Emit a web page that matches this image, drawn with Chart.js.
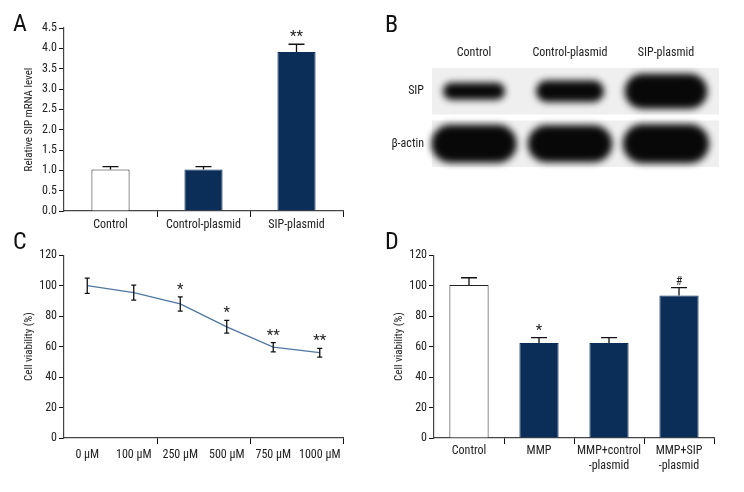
<!DOCTYPE html>
<html>
<head>
<meta charset="utf-8">
<script src="https://cdn.jsdelivr.net/npm/chart.js@4.4.0/dist/chart.umd.min.js"></script>
<style>
body { margin: 0; background: #fff; }
#wrap { position: relative; width: 744px; height: 492px; }
.panel { position: absolute; width: 372px; height: 246px; }
.tag { position: absolute; font: 24px 'Roboto Condensed', 'DejaVu Sans Condensed', sans-serif; line-height: 24px; color: #111; }
</style>
</head>
<body>
<div id="wrap">
	<div class="panel" style="left:0;top:0"><canvas id="chartA"></canvas></div>
	<div class="panel" style="left:372px;top:0"><canvas id="chartB"></canvas></div>
	<div class="panel" style="left:0;top:246px"><canvas id="chartC"></canvas></div>
	<div class="panel" style="left:372px;top:246px"><canvas id="chartD"></canvas></div>
	<div class="tag" style="left:13px;top:11px">A</div>
	<div class="tag" style="left:385px;top:12px">B</div>
	<div class="tag" style="left:13px;top:229px">C</div>
	<div class="tag" style="left:385px;top:229px">D</div>
</div>
<script>
// A - relative SIP mRNA
var groupsA = ['Control', 'Control-plasmid', 'SIP-plasmid'];
var mrnaA = [1.02, 1.02, 3.91];
var mrnaErrA = [0.07, 0.07, 0.19];
var sigA = ['', '', '**'];

// B - western blot (band density, arbitrary units)
var lanesB = ['Control', 'Control-plasmid', 'SIP-plasmid'];
var rowsB = ['SIP', 'β-actin'];
var sipDensity = [1.0, 1.35, 2.6];
var actinDensity = [2.9, 2.8, 3.0];

// C - viability vs dose
var dosesC = ['0 µM', '100 µM', '250 µM', '500 µM', '750 µM', '1000 µM'];
var viabilityC = [100, 95.4, 88, 73, 59.6, 56];
var viabilityErrC = [5, 4.9, 4.7, 4.2, 3, 2.9];
var sigC = ['', '', '*', '*', '**', '**'];

// D - viability by treatment
var groupsD = ['Control', 'MMP', ['MMP+control', '-plasmid'], ['MMP+SIP', '-plasmid']];
var viabilityD = [100.4, 62.4, 62.4, 93.5];
var viabilityErrD = [4.8, 3.5, 3.5, 5.2];
var sigD = ['', '*', '', '#'];

var navy = '#0b2e58';
var FONT = "'Roboto Condensed', 'DejaVu Sans Condensed', sans-serif";
Chart.defaults.font.family = FONT;
Chart.defaults.font.size = 12;
Chart.defaults.color = '#222';
Chart.defaults.animation = false;
Chart.defaults.events = [];
Chart.defaults.plugins.legend.display = false;
Chart.defaults.plugins.tooltip.enabled = false;

// error bars + significance marks
function errorBars(errors, marks, both, cap) {
	return {
		id: 'errorBars',
		afterDatasetsDraw: function(chart) {
			var ctx = chart.ctx, y = chart.scales.y, ds = chart.data.datasets[0];
			chart.getDatasetMeta(0).data.forEach(function(el, i) {
				var top = y.getPixelForValue(ds.data[i] + errors[i]);
				var bottom = both ? y.getPixelForValue(ds.data[i] - errors[i]) : el.y;
				ctx.save();
				ctx.strokeStyle = '#111';
				ctx.lineWidth = 1.3;
				ctx.beginPath();
				ctx.moveTo(el.x, top); ctx.lineTo(el.x, bottom);
				ctx.moveTo(el.x - cap, top); ctx.lineTo(el.x + cap, top);
				if (both) { ctx.moveTo(el.x - cap, bottom); ctx.lineTo(el.x + cap, bottom); }
				ctx.stroke();
				if (marks[i]) {
					ctx.fillStyle = '#222';
					ctx.font = (marks[i] == '#' ? '12px ' : '15px ') + FONT;
					ctx.textAlign = 'center';
					ctx.textBaseline = 'alphabetic';
					ctx.fillText(marks[i], el.x, top - 3);
				}
				ctx.restore();
			});
		}
	};
}

function tickEvery(n) {
	return function(c) {
		if (c.type === 'scale') return '#111';
		return c.index > 0 && c.index % n === 0 ? '#111' : 'rgba(0,0,0,0)';
	};
}

function yAxis(max, step, title, width, titlePad, fmt) {
	return {
		min: 0, max: max,
		ticks: {stepSize: step, padding: 2, callback: fmt},
		grid: {drawOnChartArea: false, color: '#111', tickLength: 5},
		border: {color: '#444', width: 1.2},
		title: {display: true, text: title, font: {size: 11}, padding: {top: titlePad, bottom: 0}},
		afterFit: function(s) { s.width = width; }
	};
}

function xAxis(height, pad, every) {
	return {
		offset: true,
		grid: {offset: true, drawOnChartArea: false, tickLength: 6, color: tickEvery(every)},
		border: {color: '#444', width: 1.2},
		ticks: {padding: pad, maxRotation: 0, autoSkip: false},
		afterFit: function(s) { s.height = height; }
	};
}

new Chart(document.getElementById('chartA'), {
	type: 'bar',
	data: {
		labels: groupsA,
		datasets: [{
			data: mrnaA,
			backgroundColor: ['#ffffff', navy, navy],
			borderColor: ['#222', navy, navy],
			borderWidth: 1,
			categoryPercentage: 1,
			barPercentage: 0.41
		}]
	},
	options: {
		responsive: true,
		maintainAspectRatio: false,
		layout: {padding: {top: 28, right: 29, left: 0, bottom: 0}},
		scales: {
			x: xAxis(35, 1, 1),
			y: yAxis(4.5, 0.5, 'Relative SIP mRNA level', 64, 23, function(v) { return v.toFixed(1); })
		}
	},
	plugins: [errorBars(mrnaErrA, sigA, false, 8)]
});

// blot: band images sized from density
function bandImage(d) {
	var w = 62 * Math.pow(d, 0.3), h = 17 * Math.pow(d, 0.75);
	var c = document.createElement('canvas');
	c.width = Math.ceil(w + 20);
	c.height = Math.ceil(h + 20);
	var g = c.getContext('2d');
	g.filter = 'blur(3.5px)';
	g.fillStyle = '#080808';
	g.beginPath();
	g.roundRect((c.width - w) / 2, (c.height - h) / 2, w, h, h / 2);
	g.fill();
	return c;
}

var blotBackground = {
	id: 'blotBackground',
	beforeDatasetsDraw: function(chart) {
		var ctx = chart.ctx, a = chart.chartArea, y = chart.scales.y;
		var half = y.height / rowsB.length / 2 - 3;
		ctx.save();
		ctx.fillStyle = '#efefef';
		rowsB.forEach(function(r, i) {
			var yc = y.getPixelForValue(i);
			ctx.fillRect(a.left + 6, yc - half, a.right - a.left - 1, half * 2);
		});
		ctx.restore();
	}
};

new Chart(document.getElementById('chartB'), {
	type: 'scatter',
	data: {
		datasets: [{
			data: lanesB.map(function(l) { return {x: l, y: rowsB[0]}; }),
			pointStyle: sipDensity.map(bandImage),
			clip: false
		}, {
			data: lanesB.map(function(l) { return {x: l, y: rowsB[1]}; }),
			pointStyle: actinDensity.map(bandImage),
			clip: false
		}]
	},
	options: {
		responsive: true,
		maintainAspectRatio: false,
		layout: {padding: {top: 40, right: 30, bottom: 76, left: 0}},
		scales: {
			x: {type: 'category', labels: lanesB, position: 'top', offset: true,
				grid: {display: false, drawTicks: false}, border: {display: false},
				ticks: {padding: 5}, afterFit: function(s) { s.height = 25; }},
			y: {type: 'category', labels: rowsB, offset: true,
				grid: {display: false, drawTicks: false}, border: {display: false},
				ticks: {padding: 2}, afterFit: function(s) { s.width = 54; }}
		}
	},
	plugins: [blotBackground]
});

new Chart(document.getElementById('chartC'), {
	type: 'line',
	data: {
		labels: dosesC,
		datasets: [{
			data: viabilityC,
			borderColor: '#4f77a3',
			borderWidth: 1.3,
			pointRadius: 0,
			tension: 0
		}]
	},
	options: {
		responsive: true,
		maintainAspectRatio: false,
		layout: {padding: {top: 8, right: 29, left: 0, bottom: 0}},
		scales: {
			x: xAxis(54, 4, 2),
			y: yAxis(120, 20, 'Cell viability (%)', 64, 23)
		}
	},
	plugins: [errorBars(viabilityErrC, sigC, true, 2.5)]
});

new Chart(document.getElementById('chartD'), {
	type: 'bar',
	data: {
		labels: groupsD,
		datasets: [{
			data: viabilityD,
			backgroundColor: ['#ffffff', navy, navy, navy],
			borderColor: ['#222', navy, navy, navy],
			borderWidth: 1,
			categoryPercentage: 1,
			barPercentage: 0.56
		}]
	},
	options: {
		responsive: true,
		maintainAspectRatio: false,
		layout: {padding: {top: 8, right: 30, left: 0, bottom: 0}},
		scales: {
			x: xAxis(54, 0, 1),
			y: yAxis(120, 20, 'Cell viability (%)', 62, 21)
		}
	},
	plugins: [errorBars(viabilityErrD, sigD, false, 8)]
});
</script>
</body>
</html>
